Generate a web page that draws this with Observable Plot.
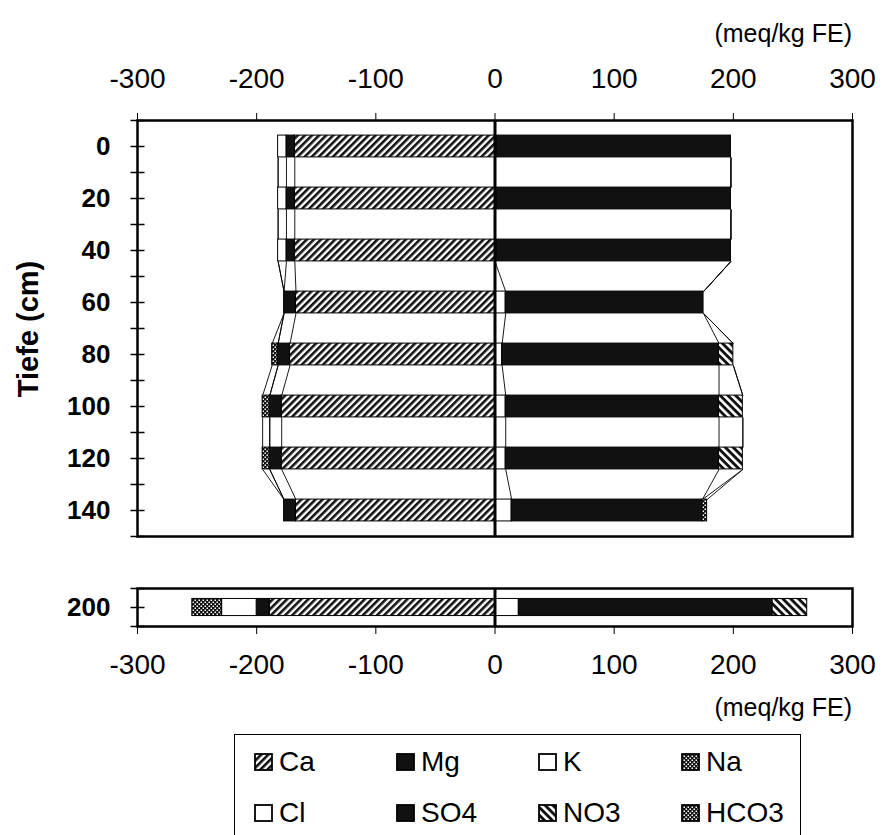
<!DOCTYPE html>
<html><head><meta charset="utf-8">
<script src="https://cdn.jsdelivr.net/npm/d3@7"></script>
<script src="https://cdn.jsdelivr.net/npm/@observablehq/plot@0.6"></script>
<style>
html,body{margin:0;padding:0;background:#fff;}
body{width:883px;height:835px;overflow:hidden;position:relative;font-family:"Liberation Sans",Arial,Helvetica,sans-serif;color:#000;}
#main,#lower{position:absolute;left:0;}
#main{top:0;}
#lower{top:545px;}
#main svg text,#lower svg text{font-family:"Liberation Sans",Arial,sans-serif;font-size:28px;fill:#000;}
#main svg g[aria-label^="y-axis"] text,#lower svg g[aria-label^="y-axis"] text{font-weight:bold;font-size:26px;}
.lbl{position:absolute;white-space:nowrap;line-height:1;}
#legend{position:absolute;left:234px;top:734px;width:567px;height:120px;border:1.5px solid #000;box-sizing:border-box;}
.sw{position:absolute;}
.lt{position:absolute;font-size:28px;line-height:28px;white-space:nowrap;}
</style></head><body>
<svg width="0" height="0" style="position:absolute">
<defs>
<pattern id="pCa" patternUnits="userSpaceOnUse" width="5" height="5" patternTransform="rotate(45)"><rect width="5" height="5" fill="#fff"/><rect width="2.6" height="5" fill="#111"/></pattern>
<pattern id="pNO3" patternUnits="userSpaceOnUse" width="5.5" height="5.5" patternTransform="rotate(-45)"><rect width="5.5" height="5.5" fill="#111"/><rect width="2.6" height="5.5" fill="#fff"/></pattern>
<pattern id="pDot" patternUnits="userSpaceOnUse" width="4" height="4"><rect width="4" height="4" fill="#111"/><rect x="0.5" y="0.5" width="1.5" height="1.5" fill="#fff"/><rect x="2.5" y="2.5" width="1.5" height="1.5" fill="#fff"/></pattern>
</defs></svg>
<div id="main"></div>
<div id="lower"></div>
<div class="lbl" style="right:31px;top:21px;font-size:25px;">(meq/kg FE)</div>
<div class="lbl" style="right:31px;top:695px;font-size:25px;">(meq/kg FE)</div>
<div class="lbl" style="left:28px;top:329px;font-size:29px;font-weight:bold;transform:translate(-50%,-50%) rotate(-90deg);">Tiefe (cm)</div>
<div id="legend"></div>
<div id="legItems"></div>
<script>
// ---- data ----
const depths = [0, 20, 40, 60, 80, 100, 120, 140];
const ca   = [168, 168, 168, 167, 172, 179, 179, 167];
const mg   = [7, 7, 7, 10, 10, 10, 10, 10];
const k    = [7, 7, 7, 0, 0, 0, 0, 0];
const na   = [0, 0, 0, 0, 5, 6, 6, 0];
const cl   = [0, 0, 0, 9, 6, 9, 9, 14];
const so4  = [198, 198, 198, 166, 182, 179, 179, 160];
const no3  = [0, 0, 0, 0, 12, 20, 20, 0];
const hco3 = [0, 0, 0, 0, 0, 0, 0, 4];

const deepDepths = [200];
const deepCa = [189], deepMg = [11], deepK = [29], deepNa = [25];
const deepCl = [20], deepSO4 = [213], deepNO3 = [29], deepHCO3 = [0];

const xTicks = [-300, -200, -100, 0, 100, 200, 300];
const yTickLabels = [0, 20, 40, 60, 80, 100, 120, 140];
const yTickMarks = [-10, 0, 10, 20, 30, 40, 50, 60, 70, 80, 90, 100, 110, 120, 130, 140, 150];
const lowerTickLabels = [200];
const lowerTickMarks = [190, 200, 210];

const cationNames = ["Ca", "Mg", "K", "Na"];
const anionNames = ["Cl", "SO4", "NO3", "HCO3"];
const legendOrder = ["Ca", "Mg", "K", "Na", "Cl", "SO4", "NO3", "HCO3"];

// ---- styling ----
const fills = {Ca: "url(#pCa)", Mg: "#111", K: "#fff", Na: "url(#pDot)",
               Cl: "#fff", SO4: "#111", NO3: "url(#pNO3)", HCO3: "url(#pDot)"};
const halfMain = 4.2, halfLower = 4.5;

function buildSegments(ds, cat, an) {
  const segs = [], bounds = [];
  ds.forEach((d, i) => {
    let c = 0;
    const b = {depth: d, left: [], right: []};
    cat.forEach((arr, j) => { const x1 = -c; c += arr[i]; segs.push({ion: cationNames[j], depth: d, x1, x2: -c}); b.left.push(-c); });
    c = 0;
    an.forEach((arr, j) => { const x1 = c; c += arr[i]; segs.push({ion: anionNames[j], depth: d, x1, x2: c}); b.right.push(c); });
    bounds.push(b);
  });
  return {segs: segs.filter(s => s.x1 !== s.x2), bounds};
}

const main = buildSegments(depths, [ca, mg, k, na], [cl, so4, no3, hco3]);
const lower = buildSegments(deepDepths, [deepCa, deepMg, deepK, deepNa], [deepCl, deepSO4, deepNO3, deepHCO3]);

const links = [];
for (let i = 0; i < main.bounds.length - 1; i++) {
  const a = main.bounds[i], b = main.bounds[i + 1];
  for (const side of ["left", "right"]) {
    a[side].forEach((v, j) => links.push({x1: v, y1: a.depth + halfMain, x2: b[side][j], y2: b.depth - halfMain}));
  }
}

const hTick = {draw(ctx) { ctx.moveTo(-7, 0); ctx.lineTo(7, 0); }};

function barMarks(segs, half) {
  return legendOrder.map(name => Plot.rect(segs.filter(s => s.ion === name), {
    x1: "x1", x2: "x2", y1: d => d.depth - half, y2: d => d.depth + half,
    fill: fills[name], stroke: "#000", strokeWidth: 1
  }));
}

const mainPlot = Plot.plot({
  width: 883, height: 545,
  marginTop: 120, marginBottom: 9, marginLeft: 137, marginRight: 31,
  x: {domain: [xTicks[0], xTicks[xTicks.length - 1]], axis: "top", ticks: xTicks, tickSize: 8, tickPadding: 25, tickFormat: d => String(d), label: null},
  y: {domain: [yTickMarks[0], yTickMarks[yTickMarks.length - 1]], reverse: true, ticks: yTickLabels, tickSize: 0, tickPadding: 27, tickFormat: d => String(d), label: null},
  marks: [
    Plot.link(links, {x1: "x1", y1: "y1", x2: "x2", y2: "y2", stroke: "#000", strokeWidth: 0.9}),
    ...barMarks(main.segs, halfMain),
    Plot.ruleX([0], {stroke: "#000", strokeWidth: 3}),
    Plot.frame({stroke: "#000", strokeWidth: 2.5}),
    Plot.dot(yTickMarks, {x: () => xTicks[0], y: d => d, symbol: hTick, stroke: "#000", strokeWidth: 1.5})
  ]
});
document.getElementById("main").appendChild(mainPlot);

const lowerPlot = Plot.plot({
  width: 883, height: 200,
  marginTop: 43, marginBottom: 119, marginLeft: 137, marginRight: 31,
  x: {domain: [xTicks[0], xTicks[xTicks.length - 1]], axis: "bottom", ticks: xTicks, tickSize: 8, tickPadding: 20, tickFormat: d => String(d), label: null},
  y: {domain: [lowerTickMarks[0], lowerTickMarks[lowerTickMarks.length - 1]], reverse: true, ticks: lowerTickLabels, tickSize: 0, tickPadding: 27, tickFormat: d => String(d), label: null},
  marks: [
    ...barMarks(lower.segs, halfLower),
    Plot.ruleX([0], {stroke: "#000", strokeWidth: 3}),
    Plot.frame({stroke: "#000", strokeWidth: 2.5}),
    Plot.dot(lowerTickMarks, {x: () => xTicks[0], y: d => d, symbol: hTick, stroke: "#000", strokeWidth: 1.5})
  ]
});
document.getElementById("lower").appendChild(lowerPlot);

// ---- legend ----
const cols = [254, 396, 538, 681], rows = [762, 813];
const legItems = document.getElementById("legItems");
legendOrder.forEach((name, i) => {
  const cx = cols[i % 4], cy = rows[Math.floor(i / 4)];
  const sw = document.createElementNS("http://www.w3.org/2000/svg", "svg");
  sw.setAttribute("class", "sw"); sw.setAttribute("width", 19); sw.setAttribute("height", 18);
  sw.style.left = cx + "px"; sw.style.top = (cy - 9) + "px";
  sw.innerHTML = `<rect x="1" y="1" width="17" height="16" fill="${fills[name]}" stroke="#000" stroke-width="1.8"/>`;
  legItems.appendChild(sw);
  const t = document.createElement("div");
  t.className = "lt"; t.textContent = name;
  t.style.left = (cx + 25) + "px"; t.style.top = (cy - 14) + "px";
  legItems.appendChild(t);
});
</script>
</body></html>
